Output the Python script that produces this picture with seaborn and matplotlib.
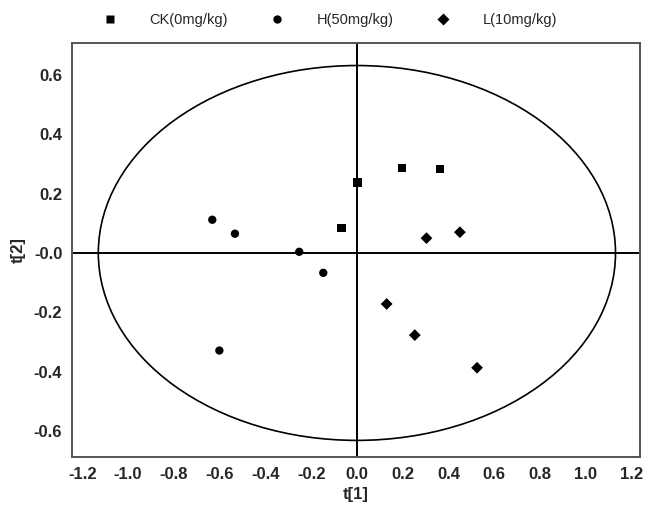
import pandas as pd
import seaborn as sns
import matplotlib
matplotlib.use('Agg')
import matplotlib.pyplot as plt
from matplotlib.patches import Ellipse

# scores
groups = ["CK(0mg/kg)", "H(50mg/kg)", "L(10mg/kg)"]
ck_t1 = [0.198, 0.362, 0.003, -0.067]
ck_t2 = [0.286, 0.283, 0.238, 0.085]
h_t1 = [-0.632, -0.533, -0.252, -0.147, -0.601]
h_t2 = [0.112, 0.065, 0.004, -0.067, -0.329]
l_t1 = [0.304, 0.450, 0.130, 0.253, 0.525]
l_t2 = [0.050, 0.070, -0.172, -0.277, -0.387]

# Hotelling T2 ellipse semi-axes
ell_a = 1.13
ell_b = 0.632

x_ticks = [-1.2, -1.0, -0.8, -0.6, -0.4, -0.2, 0.0, 0.2, 0.4, 0.6, 0.8, 1.0, 1.2]
y_ticks = [-0.6, -0.4, -0.2, 0.0, 0.2, 0.4, 0.6]
y_labels = ["-0.6", "-0.4", "-0.2", "-0.0", "0.2", "0.4", "0.6"]

df = pd.DataFrame({
    "t1": ck_t1 + h_t1 + l_t1,
    "t2": ck_t2 + h_t2 + l_t2,
    "group": [groups[0]] * len(ck_t1) + [groups[1]] * len(h_t1) + [groups[2]] * len(l_t1),
})

sns.set_style("white")
plt.rcParams['font.family'] = ['Liberation Sans', 'DejaVu Sans']

fig = plt.figure(figsize=(6.46, 5.12), dpi=100)
ax = fig.add_axes([72 / 646, 1 - 457 / 512, 568 / 646, 414 / 512])

ax.axhline(0, color="black", lw=1.4, zorder=1)
ax.axvline(0, color="black", lw=1.4, zorder=1)
ax.add_patch(Ellipse((0, 0), 2 * ell_a, 2 * ell_b, fill=False, edgecolor="black", lw=1.2, zorder=1))

sns.scatterplot(data=df, x="t1", y="t2", style="group",
                markers={groups[0]: "s", groups[1]: "o", groups[2]: "D"},
                color="black", edgecolor="none", s=36, ax=ax, zorder=3)

ax.set_xlim(-1.245, 1.237)
ax.set_ylim(-0.688, 0.708)
ax.set_xticks(x_ticks)
ax.set_xticklabels([f"{v:.1f}" for v in x_ticks])
ax.set_yticks(y_ticks)
ax.set_yticklabels(y_labels)
ax.tick_params(length=0, labelsize=12, pad=7)
ax.tick_params(axis="x", pad=7)
for lab in ax.get_xticklabels() + ax.get_yticklabels():
    lab.set_fontweight("bold")
ax.set_xlabel("t[1]", fontsize=12, fontweight="bold", labelpad=4)
ax.set_ylabel("t[2]", fontsize=12, fontweight="bold", labelpad=6)

for sp in ax.spines.values():
    sp.set_color("#555555")
    sp.set_linewidth(1.4)

sns.move_legend(ax, "center", bbox_to_anchor=(330 / 646, 1 - 20 / 512),
                bbox_transform=fig.transFigure, ncol=3, frameon=False, title=None,
                fontsize=10.5, handlelength=1.0, handletextpad=2.2, columnspacing=2.9,
                markerscale=1.0)

plt.savefig("out.png", dpi=100)
plt.close()
